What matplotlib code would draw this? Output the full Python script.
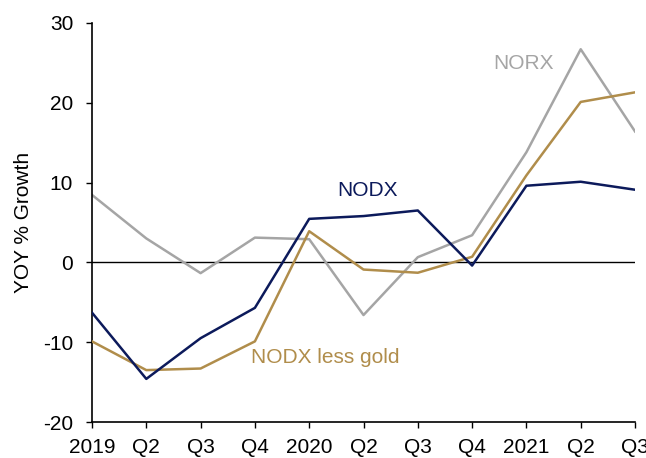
import matplotlib
matplotlib.use("Agg")
import matplotlib.pyplot as plt

quarters = ["2019", "Q2", "Q3", "Q4", "2020", "Q2", "Q3", "Q4", "2021", "Q2", "Q3"]
nodx = [-6.3, -14.6, -9.5, -5.7, 5.45, 5.8, 6.5, -0.4, 9.6, 10.1, 9.1]
nodx_less_gold = [-9.9, -13.5, -13.3, -9.9, 3.9, -0.9, -1.3, 0.7, 10.9, 20.1, 21.3]
norx = [8.45, 3.0, -1.35, 3.1, 2.9, -6.6, 0.65, 3.4, 13.8, 26.7, 16.4]

plt.rcParams['font.family'] = ['Liberation Sans', 'DejaVu Sans']
plt.rcParams['axes.unicode_minus'] = False

fig = plt.figure(figsize=(6.46, 4.58), dpi=100)
ax = fig.add_axes([0.1424, 0.0786, 0.8406, 0.8714])

x = list(range(len(quarters)))
c_nodx = "#0c1a5b"
c_gold = "#b08d4b"
c_norx = "#a5a5a5"

ax.axhline(0, color="black", lw=1.0, zorder=1)
ax.plot(x, norx, color=c_norx, lw=1.8, zorder=2)
ax.plot(x, nodx_less_gold, color=c_gold, lw=1.8, zorder=3)
ax.plot(x, nodx, color=c_nodx, lw=1.8, zorder=4)

ax.set_xlim(0, len(quarters) - 1)
ax.set_ylim(-20, 30)
ax.set_yticks([-20, -10, 0, 10, 20, 30])
ax.set_xticks(x)
ax.set_xticklabels(quarters)
ax.tick_params(axis='both', labelsize=15, direction='out', length=4.5, width=1, color='black')
ax.tick_params(axis='x', pad=7)
ax.tick_params(axis='y', pad=9)
for lab in ax.get_xticklabels():
    lab.set_clip_on(False)

ax.spines['top'].set_visible(False)
ax.spines['right'].set_visible(False)
ax.spines['left'].set_linewidth(1.2)
ax.spines['bottom'].set_linewidth(1.2)

ax.set_ylabel("YOY % Growth", fontsize=15)
ax.yaxis.set_label_coords(-0.108, 0.5)

ax.text(7.94, 24.9, "NORX", color=c_norx, fontsize=15, ha='center', va='center')
ax.text(5.08, 9.0, "NODX", color=c_nodx, fontsize=15, ha='center', va='center')
ax.text(4.3, -11.9, "NODX less gold", color=c_gold, fontsize=15, ha='center', va='center')

fig.savefig("out.png", dpi=100)
